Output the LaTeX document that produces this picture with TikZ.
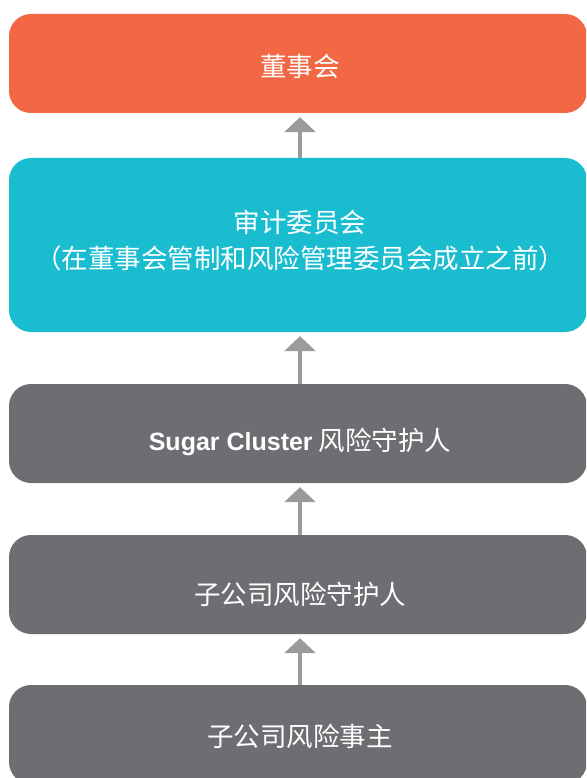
\documentclass[tikz,border=0pt]{standalone}
\usepackage{fontspec}
\setmainfont{Liberation Sans}
\newfontfamily\cjk{Noto Sans CJK SC}
\usetikzlibrary{arrows.meta}
\definecolor{orangebox}{HTML}{F26744}
\definecolor{cyanbox}{HTML}{1ABDD0}
\definecolor{graybox}{HTML}{6D6E71}
\definecolor{arrowgray}{HTML}{9B9B9B}
\begin{document}
\begin{tikzpicture}[x=1pt,y=-1pt,
  box/.style={rectangle, rounded corners=22pt, inner sep=0pt, minimum width=578pt, minimum height=99pt},
  boxtext/.style={inner sep=0pt, text=white, align=center, font=\fontsize{26.5}{36}\selectfont\cjk},
  uparrow/.style={draw=arrowgray, line width=3.5pt, -{Triangle[width=31pt,length=15pt]}}]
\useasboundingbox (0,0) rectangle (586,778);
\clip (0,0) rectangle (586,778);
\node[box, fill=orangebox] (b1) at (298,63.5) {};
\node[box, fill=cyanbox, minimum height=174pt] (b2) at (298,245) {};
\node[box, fill=graybox] (b3) at (298,433.5) {};
\node[box, fill=graybox] (b4) at (298,584.5) {};
\node[box, fill=graybox] (b5) at (298,734.5) {};
\node[boxtext] (t1) at (300,66.5) {董事会};
\node[boxtext] (t2) at (300,240.5) {审计委员会\\（在董事会管制和风险管理委员会成立之前）};
\node[boxtext] (t3) at (300,441.5) {{\fontspec{Liberation Sans}\fontsize{25}{30}\selectfont\bfseries Sugar Cluster} 风险守护人};
\node[boxtext] (t4) at (300,594) {子公司风险守护人};
\node[boxtext] (t5) at (300,736) {子公司风险事主};
\draw[uparrow] ([xshift=2pt]b2.north) -- ([xshift=2pt,yshift=-4pt]b1.south);
\draw[uparrow] ([xshift=2pt]b3.north) -- ([xshift=2pt,yshift=-4pt]b2.south);
\draw[uparrow] ([xshift=2pt]b4.north) -- ([xshift=2pt,yshift=-4pt]b3.south);
\draw[uparrow] ([xshift=2pt]b5.north) -- ([xshift=2pt,yshift=-4pt]b4.south);
\end{tikzpicture}
\end{document}
